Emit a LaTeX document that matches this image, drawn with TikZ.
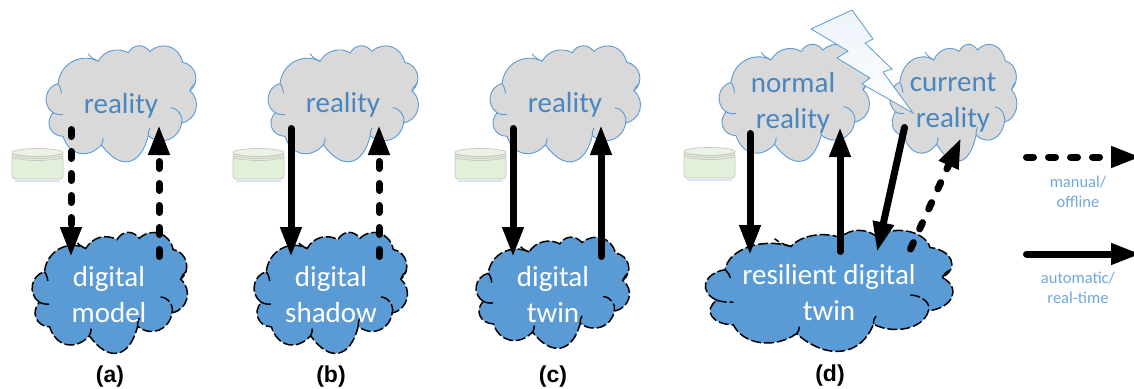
\documentclass[tikz,border=0pt]{standalone}
\usepackage{fontspec}
\setmainfont{Carlito}
\newfontfamily\capfont{Liberation Sans}
\usetikzlibrary{arrows.meta,positioning}
\definecolor{cloudblue}{HTML}{5B9BD5}
\definecolor{realtext}{HTML}{4A86BE}
\definecolor{legendtext}{HTML}{6FA8DC}
\definecolor{jargreen}{HTML}{E2EFD9}
\tikzset{realcloud/.style={draw=cloudblue, line width=0.9pt, fill=black!15}}
\tikzset{digicloud/.style={draw=black, line width=1.5pt, dash pattern=on 10pt off 3pt, fill=cloudblue}}
\tikzset{realtxt/.style={text=realtext, font=\fontsize{29}{36}\selectfont, align=center, inner sep=0pt}}
\tikzset{digitxt/.style={text=white, font=\fontsize{29}{36}\selectfont, align=center, inner sep=0pt}}
\tikzset{legendtxt/.style={text=legendtext, font=\fontsize{16.5}{19.5}\selectfont, align=center, inner sep=0pt}}
\tikzset{captxt/.style={font=\capfont\bfseries\fontsize{23}{27}\selectfont, inner sep=0pt}}
\tikzset{arr/.style={draw, line width=7pt, line cap=round, -{Triangle[length=30pt,width=20pt]}}}
\tikzset{darr/.style={arr, dash pattern=on 7pt off 15pt}}
% cloud: style, centre x, centre y, width, height
\newcommand{\puffy}[5]{
	\begin{scope}[shift={(#2,#3)},xscale=#4/464,yscale=#5/347]
		\path[#1] (-205,32) to[bend left=65,looseness=1.2] (-190,-55)
			to[bend left=55,looseness=1.1] (-70,-121)
			to[bend left=45] (20,-146)
			to[bend left=55,looseness=1.2] (85,-150)
			to[bend left=60,looseness=1.2] (183,-118)
			to[bend left=65,looseness=1.2] (205,-33)
			to[bend left=65,looseness=1.2] (180,62)
			to[bend left=60,looseness=1.2] (80,100)
			to[bend left=65,looseness=1.7] (-60,127)
			to[bend left=60,looseness=1.3] (-175,102)
			to[bend left=65,looseness=1.3] cycle;
		\path[#1, fill=none] (-205,32) to[bend right=15] (-175,37);
		\path[#1, fill=none] (-190,-55) to[bend left=15] (-180,-25);
		\path[#1, fill=none] (-70,-121) to[bend left=15] (-100,-143);
		\path[#1, fill=none] (205,-33) to[bend left=15] (220,-55);
		\path[#1, fill=none] (147,17) to[bend left=50] (180,62);
		\path[#1, fill=none] (80,100) to[bend left=15] (85,77);
		\path[#1, fill=none] (-60,127) to[bend right=15] (-55,107);
	\end{scope}
}
% jar: left x, top y
\newcommand{\jar}[2]{
	\begin{scope}[shift={(#1,#2)}]
		\draw[cloudblue!25, line width=2.5pt] (3,33) -- (48,33);
		\path[draw=black!22, line width=0.7pt, fill=jargreen, rounded corners=3pt] (0,5) -- (0,31) -- (51,31) -- (51,5) -- cycle;
		\draw[black!22, line width=0.7pt, fill=jargreen!70] (25.5,4.5) ellipse (25.5 and 4);
		\draw[black!22, line width=0.7pt] (0,6) to[bend right=10] (51,6);
		\draw[black!22, line width=0.7pt] (0,8) to[bend right=10] (51,8);
		\draw[black!22, line width=0.7pt] (0,10) to[bend right=10] (51,10);
	\end{scope}
}
\begin{document}
\begin{tikzpicture}[x=1pt,y=-1pt]
	\useasboundingbox (0,0) rectangle (1134,388);

	\puffy{realcloud}{121.5}{102}{155}{117}
	\puffy{realcloud}{343.5}{102}{155}{117}
	\puffy{realcloud}{565.5}{102}{155}{117}
	\puffy{realcloud}{794.5}{101}{155}{118}
	\puffy{realcloud}{953.5}{101}{131}{118}

	\puffy{digicloud}{110}{291}{160}{122}
	\puffy{digicloud}{331}{291}{158}{122}
	\puffy{digicloud}{553}{291}{158}{112}
	\puffy{digicloud}{829.5}{289}{255}{122}

	\jar{12}{148}
	\jar{233}{148}
	\jar{455}{148}
	\jar{684}{147}

	% lightning
	\path[draw=cloudblue, line width=0.8pt, top color=cloudblue!12, bottom color=white]
		(852,10) -- (873,39) -- (865,43) -- (892,69) -- (883,72) -- (913,113) -- (862,84) -- (870,78) -- (837,58) -- (848,51) -- (811,29) -- cycle;

	\node[realtxt] (reala) at (121,106) {reality};
	\node[realtxt] (realb) at (343,105) {reality};
	\node[realtxt] (realc) at (565,105) {reality};
	\node[realtxt] (realn) at (793,103) {normal\\reality};
	\node[realtxt] (realk) at (953,103) {current\\reality};

	\node[digitxt] (digia) at (109,295) {digital\\model};
	\node[digitxt] (digib) at (331,295) {digital\\shadow};
	\node[digitxt] (digic) at (553,295) {digital\\twin};
	\node[digitxt] (digid) at (829,293) {resilient digital\\twin};

	\coordinate (a1) at (71,129.5);
	\coordinate (a2) at (71,257);
	\coordinate (a3) at (159,256.5);
	\coordinate (a4) at (159,125);
	\coordinate (b1) at (291,128.5);
	\coordinate (b2) at (291,257);
	\coordinate (b3) at (379,256.5);
	\coordinate (b4) at (379,125);
	\coordinate (c1) at (513,128.5);
	\coordinate (c2) at (513,257);
	\coordinate (c3) at (601,256.5);
	\coordinate (c4) at (601,125);
	\coordinate (d1) at (750,133.5);
	\coordinate (d2) at (750,255);
	\coordinate (d3) at (840,251.5);
	\coordinate (d4) at (840,127);
	\coordinate (d5) at (904.5,127.5);
	\coordinate (d6) at (877,252);
	\coordinate (d7) at (910.5,249);
	\coordinate (d8) at (961,138);
	\coordinate (m1) at (1026.5,157);
	\coordinate (m2) at (1141,157);
	\coordinate (n1) at (1026.5,254);
	\coordinate (n2) at (1141,254);

	\draw[darr] (a1) to (a2);
	\draw[darr] (a3) to (a4);
	\draw[arr] (b1) to (b2);
	\draw[darr] (b3) to (b4);
	\draw[arr] (c1) to (c2);
	\draw[arr] (c3) to (c4);
	\draw[arr] (d1) to (d2);
	\draw[arr] (d3) to (d4);
	\draw[arr] (d5) to (d6);
	\draw[darr] (d7) to (d8);
	\draw[darr] (m1) to (m2);
	\draw[arr] (n1) to (n2);

	\node[legendtxt] (manual) at (1078,192) {manual/\\offline};
	\node[legendtxt] (auto) at (1078,288) {automatic/\\real-time};

	\node[captxt] (capa) at (110,377) {(a)};
	\node[captxt] (capb) at (331,377) {(b)};
	\node[captxt] (capc) at (553,377) {(c)};
	\node[captxt] (capd) at (830,376) {(d)};
\end{tikzpicture}
\end{document}
